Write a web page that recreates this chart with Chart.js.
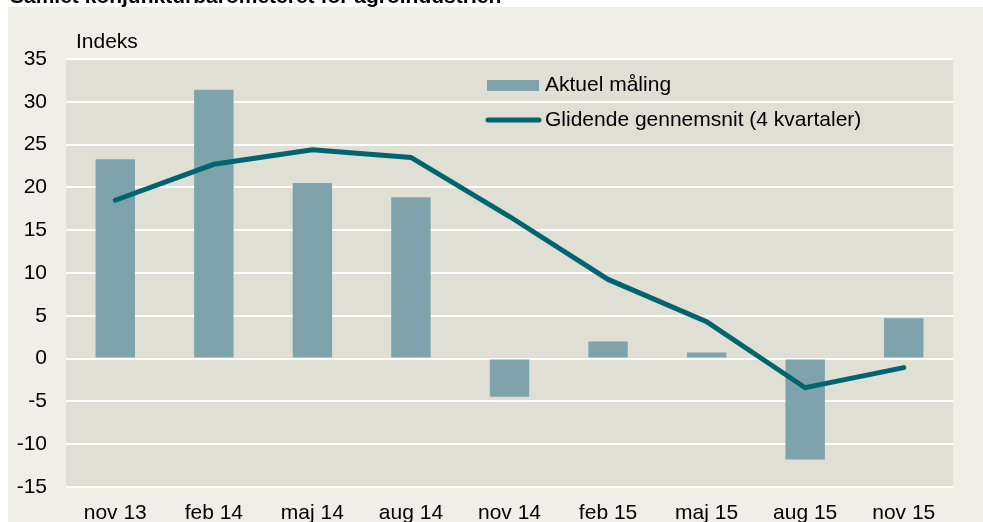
<!DOCTYPE html>
<html><head><meta charset="utf-8">
<script src="https://cdn.jsdelivr.net/npm/chart.js@4/dist/chart.umd.min.js"></script>
<style>html,body{margin:0;padding:0;background:#fff;}#wrap{width:983px;height:522px;position:relative;}</style>
</head><body><div id="wrap"><canvas id="c" width="983" height="522"></canvas></div>
<script>
const chartTitle = "Samlet konjunkturbarometeret for agroindustrien";
const axisTitle = "Indeks";
const categories = ["nov 13","feb 14","maj 14","aug 14","nov 14","feb 15","maj 15","aug 15","nov 15"];
const aktuelMaaling = [23.3, 31.4, 20.5, 18.85, -4.45, 2.0, 0.7, -11.8, 4.7];
const glidendeGennemsnit = [18.5, 22.7, 24.4, 23.5, 16.6, 9.25, 4.3, -3.4, -1.05];
const yMin = -15, yMax = 35, yStep = 5;

const FONT = "'Liberation Sans', Arial, sans-serif";
const FS = 21;
const BAR_COLOR = "#7fa3ad";
const LINE_COLOR = "#006570";

const decor = {
  id: 'decor',
  beforeDraw(chart) {
    const ctx = chart.ctx, a = chart.chartArea;
    ctx.save();
    ctx.fillStyle = '#ffffff';
    ctx.fillRect(0, 0, chart.width, chart.height);
    ctx.fillStyle = '#efeee7';
    ctx.fillRect(8, 7, chart.width - 8, chart.height - 7);
    ctx.fillStyle = '#e0dfd4';
    ctx.fillRect(a.left, a.top, a.right - a.left, a.bottom - a.top);
    ctx.fillStyle = '#000';
    ctx.font = "bold " + FS + "px " + FONT;
    ctx.textBaseline = 'alphabetic';
    ctx.textAlign = 'left';
    ctx.fillText(chartTitle, 10, 3);
    ctx.font = FS + "px " + FONT;
    ctx.textBaseline = 'middle';
    ctx.fillText(axisTitle, 76, 42);
    ctx.restore();
  },
  afterDraw(chart) {
    const ctx = chart.ctx;
    const bar = chart.data.datasets.find(d => d.type === 'bar');
    const line = chart.data.datasets.find(d => d.type === 'line');
    ctx.save();
    ctx.font = FS + "px " + FONT;
    ctx.textBaseline = 'middle';
    ctx.textAlign = 'left';
    ctx.fillStyle = BAR_COLOR;
    ctx.fillRect(487, 80, 52, 11);
    ctx.fillStyle = '#000';
    ctx.fillText(bar.label, 545, 85);
    ctx.strokeStyle = LINE_COLOR;
    ctx.lineWidth = 5;
    ctx.lineCap = 'round';
    ctx.beginPath();
    ctx.moveTo(488, 120); ctx.lineTo(539, 120);
    ctx.stroke();
    ctx.fillText(line.label, 545, 120);
    ctx.restore();
  }
};

new Chart(document.getElementById('c'), {
  data: {
    labels: categories,
    datasets: [
      { type: 'line', label: 'Glidende gennemsnit (4 kvartaler)', data: glidendeGennemsnit,
        borderColor: LINE_COLOR, borderWidth: 5, pointRadius: 0, tension: 0,
        borderCapStyle: 'round', borderJoinStyle: 'miter', order: 0 },
      { type: 'bar', label: 'Aktuel måling', data: aktuelMaaling,
        backgroundColor: BAR_COLOR, barPercentage: 0.4, categoryPercentage: 1.0, order: 1 }
    ]
  },
  options: {
    responsive: false, animation: false, devicePixelRatio: 1,
    layout: { padding: { left: 0, right: 30, top: 59, bottom: 0 } },
    plugins: { legend: { display: false }, tooltip: { enabled: false }, title: { display: false } },
    scales: {
      x: {
        grid: { display: false, drawTicks: false },
        border: { display: false },
        ticks: { color: '#000', font: { family: FONT, size: FS }, padding: 14, maxRotation: 0 },
        afterFit(s) { s.height = 35; }
      },
      y: {
        min: yMin, max: yMax,
        grid: { color: '#ffffff', lineWidth: 2, drawTicks: false },
        border: { display: false },
        ticks: { stepSize: yStep, color: '#000', font: { family: FONT, size: FS }, padding: 19 },
        afterFit(s) { s.width = 66; }
      }
    }
  },
  plugins: [decor]
});
</script>
</body></html>
